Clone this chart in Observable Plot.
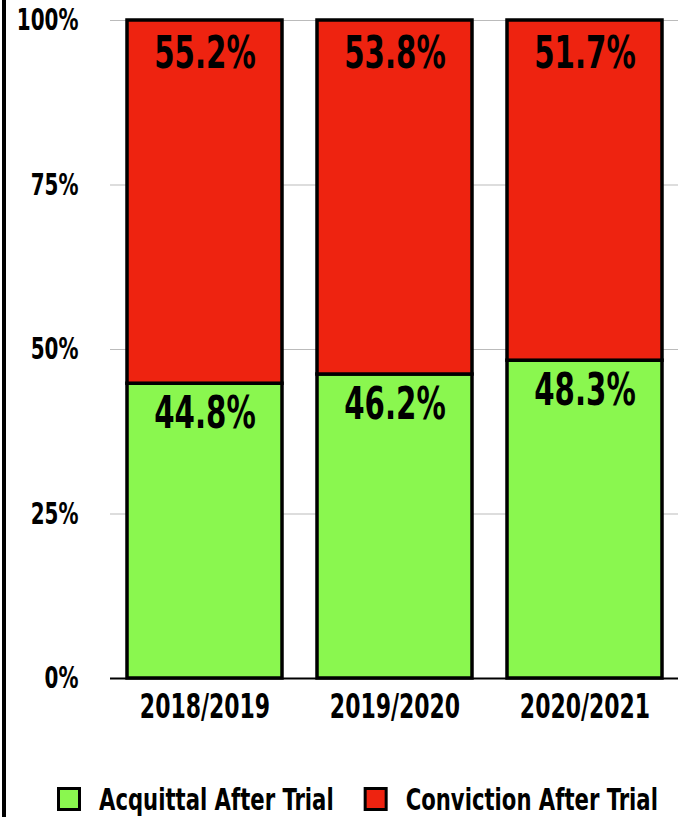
<!DOCTYPE html>
<html>
<head>
<meta charset="utf-8">
<script src="https://cdn.jsdelivr.net/npm/d3@7"></script>
<script src="https://cdn.jsdelivr.net/npm/@observablehq/plot@0.6"></script>
<style>
  html, body { margin: 0; padding: 0; background: #fff; }
  body { width: 684px; height: 817px; position: relative; overflow: hidden; }
  #edge { position: absolute; left: 2px; top: 0; width: 4px; height: 817px; background: #000; }
  #chart { position: absolute; left: 0; top: 0; }
  #legend { position: absolute; top: 780px; left: 0; }
</style>
</head>
<body>
<div id="chart"></div>
<div id="legend"></div>
<div id="edge"></div>
<script>
const years = ["2018/2019", "2019/2020", "2020/2021"];
const acquittal = [44.8, 46.2, 48.3];
const conviction = [55.2, 53.8, 51.7];
const seriesNames = ["Acquittal After Trial", "Conviction After Trial"];
const seriesColors = ["#8af74f", "#ee2310"];
const yTicks = [0, 25, 50, 75, 100];

const rows = years.flatMap((yr, i) => [
  {year: yr, series: seriesNames[0], value: acquittal[i]},
  {year: yr, series: seriesNames[1], value: conviction[i]}
]);
const acqLabels = years.map((yr, i) => ({year: yr, y: acquittal[i], text: acquittal[i].toFixed(1) + "%"}));
const conLabels = years.map((yr, i) => ({year: yr, y: 100, text: conviction[i].toFixed(1) + "%"}));

const font = "'DejaVu Sans Condensed', 'DejaVu Sans', sans-serif";
const squeeze = 0.74;

// Horizontally condense each text about its own anchor point (Impact-like look),
// keeping whatever position Plot gave it.
function condense(root, k) {
  root.querySelectorAll("text").forEach(t => {
    const b = t.getBBox();
    const anchor = getComputedStyle(t).textAnchor;
    const ax = anchor === "middle" ? b.x + b.width / 2 : anchor === "end" ? b.x + b.width : b.x;
    const tr = t.getAttribute("transform") || "";
    t.setAttribute("transform", `${tr} translate(${ax},0) scale(${k},1) translate(${-ax},0)`.trim());
  });
}

const chart = Plot.plot({
  width: 684,
  height: 735,
  marginLeft: 110,
  marginRight: 6,
  marginTop: 20,
  marginBottom: 57,
  style: {fontFamily: font, fontWeight: "bold", color: "#000", background: "transparent"},
  x: {domain: years, paddingInner: 0.186, paddingOuter: 0.084, label: null},
  y: {domain: [0, 100], label: null},
  color: {domain: seriesNames, range: seriesColors},
  marks: [
    Plot.gridY(yTicks, {stroke: "#bbb", strokeOpacity: 1, strokeWidth: 1}),
    Plot.barY(rows, {x: "year", y: "value", fill: "series", stroke: "#000", strokeWidth: 3.5}),
    Plot.ruleY([0], {stroke: "#000", strokeWidth: 2}),
    Plot.axisY(yTicks, {tickSize: 0, tickPadding: 32, fontSize: 30, tickFormat: d => d + "%", label: null}),
    Plot.axisX({tickSize: 0, tickPadding: 16, fontSize: 33, label: null}),
    Plot.text(conLabels, {x: "year", y: "y", text: "text", dy: 33, fontSize: 44, fill: "#000"}),
    Plot.text(acqLabels, {x: "year", y: "y", text: "text", dy: 30, fontSize: 44, fill: "#000"})
  ]
});
document.getElementById("chart").appendChild(chart);
condense(chart, squeeze);

// Legend below the chart
const legK = 0.76;
const lg = d3.select("#legend").append("svg")
  .attr("width", 684).attr("height", 37)
  .style("font-family", font).style("font-weight", "bold");
let xPos = 57;
seriesNames.forEach((name, i) => {
  const g = lg.append("g");
  g.append("rect").attr("x", xPos + 1.5).attr("y", 8.5).attr("width", 21).attr("height", 21)
    .attr("fill", seriesColors[i]).attr("stroke", "#000").attr("stroke-width", 3);
  const tx = xPos + 42;
  const t = g.append("text").attr("font-size", 31).attr("fill", "#000")
    .attr("transform", `translate(${tx},30) scale(${legK},1)`).text(name);
  const w = t.node().getComputedTextLength() * legK;
  xPos = tx + w + 30;
});
</script>
</body>
</html>
